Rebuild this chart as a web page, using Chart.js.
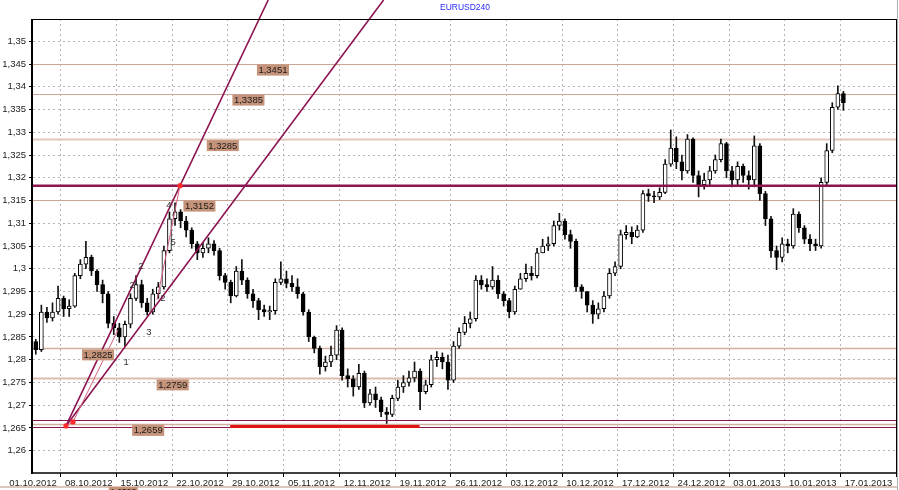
<!DOCTYPE html>
<html>
<head>
<meta charset="utf-8">
<script src="https://cdn.jsdelivr.net/npm/chart.js@4.4.1/dist/chart.umd.min.js"></script>
<style>
  html, body { margin: 0; padding: 0; background: #fff; }
  #wrap { width: 899px; height: 490px; position: relative; }
</style>
</head>
<body>
<div id="wrap"><canvas id="chart"></canvas></div>
<script>
// Trading-day positions of the date labels (one week = 5 units)
const xTickDays = [0, 5, 10, 15, 20, 25, 30, 35, 40, 45, 50, 55, 60, 65, 70, 75];
const xTickLabels = ['01.10.2012', '08.10.2012', '15.10.2012', '22.10.2012', '29.10.2012',
  '05.11.2012', '12.11.2012', '19.11.2012', '26.11.2012', '03.12.2012', '10.12.2012',
  '17.12.2012', '24.12.2012', '03.01.2013', '10.01.2013', '17.01.2013'];

const priceTicks = [1.26, 1.265, 1.27, 1.275, 1.28, 1.285, 1.29, 1.295, 1.3, 1.305,
  1.31, 1.315, 1.32, 1.325, 1.33, 1.335, 1.34, 1.345, 1.35];
const priceTickLabels = ['1,26', '1,265', '1,27', '1,275', '1,28', '1,285', '1,29', '1,295', '1,3', '1,305',
  '1,31', '1,315', '1,32', '1,325', '1,33', '1,335', '1,34', '1,345', '1,35'];

// EURUSD candles, two per trading day
const firstOpen = 1.2840;
const closes = [
  1.2822, 1.2905, 1.2892, 1.2905, 1.2935, 1.2912, 1.2918, 1.2985, 1.3010, 1.3025,
  1.2995, 1.2965, 1.2945, 1.2880, 1.2870, 1.2850, 1.2878, 1.2935, 1.2965, 1.2925,
  1.2905, 1.2945, 1.2960, 1.3040, 1.3110, 1.3125, 1.3105, 1.3085, 1.3055, 1.3035,
  1.3045, 1.3055, 1.3040, 1.2985, 1.2970, 1.2940, 1.2995, 1.2975, 1.2945, 1.2930,
  1.2910, 1.2905, 1.2908, 1.2970, 1.2978, 1.2968, 1.2960, 1.2945, 1.2905, 1.2850,
  1.2825, 1.2785, 1.2795, 1.2810, 1.2865, 1.2765, 1.2758, 1.2740, 1.2770, 1.2705,
  1.2725, 1.2712, 1.2685, 1.2680, 1.2715, 1.2740, 1.2750, 1.2760, 1.2775, 1.2730,
  1.2745, 1.2800, 1.2805, 1.2795, 1.2755, 1.2830, 1.2860, 1.2880, 1.2890, 1.2975,
  1.2965, 1.2960, 1.2975, 1.2945, 1.2930, 1.2905, 1.2955, 1.2978, 1.2990, 1.2985,
  1.3035, 1.3050, 1.3055, 1.3095, 1.3105, 1.3075, 1.3060, 1.2960, 1.2950, 1.2920,
  1.2900, 1.2912, 1.2940, 1.2990, 1.3005, 1.3075, 1.3080, 1.3070, 1.3085, 1.3165,
  1.3160, 1.3158, 1.3168, 1.3230, 1.3265, 1.3235, 1.3215, 1.3285, 1.3205, 1.3185,
  1.3195, 1.3215, 1.3240, 1.3275, 1.3215, 1.3195, 1.3225, 1.3205, 1.3195, 1.3270,
  1.3165, 1.3110, 1.3040, 1.3025, 1.3055, 1.3050, 1.3120, 1.3090, 1.3065, 1.3055,
  1.3050, 1.3190, 1.3260, 1.3355, 1.3385, 1.3365
];
const highs = [
  1.2845, 1.2920, 1.2915, 1.2925, 1.2962, 1.2940, 1.2932, 1.2990, 1.3020, 1.3060,
  1.3030, 1.2998, 1.2975, 1.2950, 1.2895, 1.2880, 1.2885, 1.2945, 1.2985, 1.2975,
  1.2935, 1.2955, 1.2970, 1.3050, 1.3125, 1.3145, 1.3130, 1.3115, 1.3090, 1.3060,
  1.3058, 1.3068, 1.3062, 1.3045, 1.2990, 1.2975, 1.3005, 1.3020, 1.2980, 1.2955,
  1.2935, 1.2920, 1.2918, 1.2978, 1.3015, 1.2995, 1.2985, 1.2978, 1.2948, 1.2910,
  1.2852, 1.2830, 1.2808, 1.2830, 1.2875, 1.2870, 1.2780, 1.2765, 1.2790, 1.2775,
  1.2735, 1.2740, 1.2718, 1.2695, 1.2722, 1.2755, 1.2765, 1.2775, 1.2795, 1.2780,
  1.2755, 1.2810, 1.2818, 1.2815, 1.2810, 1.2840, 1.2870, 1.2895, 1.2905, 1.2985,
  1.2985, 1.2978, 1.3005, 1.2985, 1.2950, 1.2935, 1.2962, 1.2990, 1.3010, 1.3005,
  1.3045, 1.3065, 1.3070, 1.3105, 1.3122, 1.3110, 1.3085, 1.3065, 1.2965, 1.2950,
  1.2930, 1.2925, 1.2950, 1.3000, 1.3015, 1.3085, 1.3095, 1.3092, 1.3095, 1.3172,
  1.3175, 1.3170, 1.3178, 1.3240, 1.3305, 1.3290, 1.3250, 1.3295, 1.3288, 1.3215,
  1.3210, 1.3225, 1.3250, 1.3285, 1.3278, 1.3225, 1.3235, 1.3230, 1.3215, 1.3292,
  1.3275, 1.3170, 1.3115, 1.3050, 1.3068, 1.3065, 1.3132, 1.3125, 1.3095, 1.3075,
  1.3065, 1.3200, 1.3275, 1.3365, 1.3402, 1.3390
];
const lows = [
  1.2812, 1.2818, 1.2882, 1.2885, 1.2900, 1.2895, 1.2895, 1.2915, 1.2978, 1.3000,
  1.2985, 1.2950, 1.2925, 1.2870, 1.2855, 1.2838, 1.2830, 1.2870, 1.2930, 1.2915,
  1.2898, 1.2900, 1.2935, 1.2955, 1.3035, 1.3095, 1.3090, 1.3070, 1.3045, 1.3020,
  1.3025, 1.3035, 1.3030, 1.2975, 1.2955, 1.2925, 1.2938, 1.2965, 1.2935, 1.2915,
  1.2888, 1.2895, 1.2888, 1.2900, 1.2965, 1.2958, 1.2950, 1.2935, 1.2898, 1.2840,
  1.2815, 1.2768, 1.2775, 1.2785, 1.2800, 1.2755, 1.2740, 1.2720, 1.2735, 1.2695,
  1.2700, 1.2695, 1.2675, 1.2660, 1.2675, 1.2710, 1.2728, 1.2742, 1.2752, 1.2690,
  1.2725, 1.2740, 1.2785, 1.2780, 1.2735, 1.2750, 1.2825, 1.2855, 1.2870, 1.2885,
  1.2955, 1.2950, 1.2955, 1.2935, 1.2918, 1.2892, 1.2900, 1.2955, 1.2972, 1.2975,
  1.2980, 1.3035, 1.3040, 1.3050, 1.3085, 1.3065, 1.3045, 1.2950, 1.2935, 1.2905,
  1.2880, 1.2890, 1.2905, 1.2935, 1.2985, 1.3000, 1.3065, 1.3055, 1.3068, 1.3080,
  1.3148, 1.3145, 1.3152, 1.3165, 1.3225, 1.3220, 1.3195, 1.3210, 1.3190, 1.3158,
  1.3175, 1.3185, 1.3210, 1.3235, 1.3200, 1.3180, 1.3185, 1.3190, 1.3175, 1.3180,
  1.3150, 1.3095, 1.3025, 1.2998, 1.3015, 1.3035, 1.3045, 1.3080, 1.3055, 1.3040,
  1.3040, 1.3045, 1.3185, 1.3255, 1.3350, 1.3348
];

// Horizontal price levels with their labels
const levelPrices = [1.3451, 1.3385, 1.3285, 1.3152, 1.2825, 1.2759, 1.2659];
const levelLabels = ['1,3451', '1,3385', '1,3285', '1,3152', '1,2825', '1,2759', '1,2659'];
const levelLabelDays = [20.1, 17.9, 15.6, 13.5, 4.4, 11.1, 8.9];
const levelWidths = [1, 1, 2, 1, 1.5, 2, 1.5];
const levelColors = ['#c9a595', '#c9a595', '#e2c8bb', '#c9a595', '#d2ae9e', '#dcbcae', '#d2ae9e'];

const resistancePrice = 1.31826;      // thick maroon level
const supportPrices = [1.2667, 1.2652]; // thin maroon levels
const redSegment = { from: 17.7, to: 34.7, price: 1.2653 };

// Trend lines from the October low, each given by two points [day, price]
const trendLines = [
  [[2.96, 1.26545], [13.2, 1.31826]],
  [[2.96, 1.26545], [30.2, 1.3549]]
];
const waveLines = [
  [[2.96, 1.26545], [3.59, 1.26633]],
  [[3.59, 1.26633], [7.63, 1.28655]],
  [[11.13, 1.29314], [13.2, 1.31826]]
];
const markerPoints = [[2.96, 1.26545], [3.59, 1.26633], [13.2, 1.31826]];
const waveLabels = ['1', '2', '2', '3', '2', '4', '5'];
const wavePoints = [[8.35, 1.2795], [8.89, 1.29645], [9.69, 1.30062], [10.41, 1.28611],
  [11.67, 1.29358], [12.21, 1.31402], [12.57, 1.30589]];

const FONT = 'Arial, "Liberation Sans", sans-serif';

// Build candles: open is the previous close
const candles = closes.map((c, i) => {
  const o = i === 0 ? firstOpen : closes[i - 1];
  return { t: 0.25 + i * 0.5, o, c, h: Math.max(highs[i], o, c), l: Math.min(lows[i], o, c) };
});

function line(ctx, x1, y1, x2, y2) {
  ctx.beginPath();
  ctx.moveTo(x1, y1);
  ctx.lineTo(x2, y2);
  ctx.stroke();
}

// Level lines under the candles
const levelsBelow = {
  id: 'levelsBelow',
  beforeDatasetsDraw(chart) {
    const { ctx, chartArea: a, scales: { y } } = chart;
    ctx.save();
    levelPrices.forEach((p, i) => {
      ctx.strokeStyle = levelColors[i];
      ctx.lineWidth = levelWidths[i];
      const yy = Math.round(y.getPixelForValue(p)) + 0.5;
      line(ctx, a.left, yy, a.right, yy);
    });
    ctx.restore();
  }
};

// Objects drawn over the candles
const overlay = {
  id: 'overlay',
  afterDatasetsDraw(chart) {
    const { ctx, chartArea: a, scales: { x, y } } = chart;
    const px = d => x.getPixelForValue(d);
    const py = p => y.getPixelForValue(p);
    ctx.save();

    // maroon levels
    ctx.strokeStyle = '#8c1450';
    ctx.lineWidth = 1.2;
    supportPrices.forEach(p => {
      const yy = Math.round(py(p)) + 0.5;
      line(ctx, a.left, yy, a.right, yy);
    });
    ctx.lineWidth = 2.6;
    line(ctx, a.left, py(resistancePrice), a.right, py(resistancePrice));

    // red segment at the low
    ctx.strokeStyle = '#e01414';
    ctx.lineWidth = 3;
    line(ctx, px(redSegment.from), py(redSegment.price), px(redSegment.to), py(redSegment.price));

    // trend lines run up to the top of the canvas
    ctx.strokeStyle = '#8c1450';
    ctx.lineWidth = 1.6;
    trendLines.forEach(([p1, p2]) => {
      const x1 = px(p1[0]), y1 = py(p1[1]), x2 = px(p2[0]), y2 = py(p2[1]);
      const xTop = x1 + (0 - y1) * (x2 - x1) / (y2 - y1);
      line(ctx, x1, y1, xTop, 0);
    });

    ctx.strokeStyle = '#d0607e';
    ctx.lineWidth = 1;
    waveLines.forEach(([p1, p2]) => line(ctx, px(p1[0]), py(p1[1]), px(p2[0]), py(p2[1])));

    ctx.fillStyle = '#ff2a2a';
    markerPoints.forEach(([d, p]) => {
      ctx.beginPath();
      ctx.arc(px(d), py(p), 2.6, 0, Math.PI * 2);
      ctx.fill();
    });

    // price labels
    ctx.font = '9.5px ' + FONT;
    ctx.textBaseline = 'middle';
    ctx.textAlign = 'left';
    levelPrices.forEach((p, i) => {
      const bx = px(levelLabelDays[i]);
      const by = py(p) + 1;
      const w = ctx.measureText(levelLabels[i]).width + 3;
      ctx.fillStyle = '#c4937a';
      ctx.fillRect(bx, by, w, 11);
      ctx.fillStyle = '#1a1a1a';
      ctx.fillText(levelLabels[i], bx + 1.5, by + 5.8);
    });

    // wave counts
    ctx.textAlign = 'center';
    ctx.fillStyle = '#333';
    ctx.font = '9.5px ' + FONT;
    wavePoints.forEach(([d, p], i) => ctx.fillText(waveLabels[i], px(d), py(p)));

    // frame
    ctx.strokeStyle = '#000';
    ctx.lineWidth = 1;
    line(ctx, a.left, a.top + 0.5, a.right, a.top + 0.5);
    line(ctx, a.right - 0.5, a.top, a.right - 0.5, a.bottom);
    ctx.lineWidth = 1.5;
    line(ctx, a.left, a.bottom, a.right, a.bottom);
    ctx.lineWidth = 2;
    line(ctx, a.left - 1, a.top, a.left - 1, a.bottom + 1);

    // title
    ctx.fillStyle = '#2a2aff';
    ctx.font = '8.5px ' + FONT;
    ctx.textAlign = 'center';
    ctx.fillText('EURUSD240', (a.left + a.right) / 2 + 0, 8);

    // clipped label and line at the bottom edge of the window
    const hb = chart.height;
    ctx.strokeStyle = '#d2b4a6';
    ctx.lineWidth = 1.5;
    line(ctx, 0, hb - 3, a.right, hb - 3);
    ctx.fillStyle = '#c4937a';
    ctx.fillRect(px(6.8), hb - 3, 29, 6);
    ctx.fillStyle = '#1a1a1a';
    ctx.textAlign = 'left';
    ctx.fillText('1,2593', px(6.8) + 1.5, hb + 3);
    ctx.strokeStyle = '#b0b0b0';
    ctx.lineWidth = 1;
    line(ctx, a.right + 0.5, 0, a.right + 0.5, hb);
    ctx.restore();
  }
};

new Chart(document.getElementById('chart'), {
  type: 'bar',
  data: {
    datasets: [
      {
        label: 'bodies',
        data: candles.map(k => ({ x: k.t, y: [k.o, k.c] })),
        backgroundColor: candles.map(k => (k.c >= k.o ? '#ffffff' : '#000000')),
        borderColor: '#000',
        borderWidth: 1,
        borderSkipped: false,
        barThickness: 4,
        minBarLength: 1,
        grouped: false,
        order: 1
      },
      {
        label: 'wicks',
        data: candles.map(k => ({ x: k.t, y: [k.l, k.h] })),
        backgroundColor: '#111',
        borderWidth: 0,
        barThickness: 1,
        grouped: false,
        order: 2
      }
    ]
  },
  options: {
    responsive: true,
    maintainAspectRatio: false,
    animation: false,
    layout: { padding: { left: 0, top: 19, right: 2, bottom: 0 } },
    plugins: { legend: { display: false }, tooltip: { enabled: false } },
    scales: {
      x: {
        type: 'linear',
        min: 0,
        max: 77.56,
        offset: false,
        afterBuildTicks: s => { s.ticks = xTickDays.map(v => ({ value: v })); },
        afterFit: s => { s.height = 17; },
        border: { display: false, dash: [2, 3] },
        grid: { color: '#b4b4b4', tickColor: '#000', tickLength: 4, tickBorderDash: [] },
        ticks: {
          autoSkip: false, maxRotation: 0, padding: 1,
          color: '#222', font: { family: FONT, size: 9.5 },
          callback: (v, i) => xTickLabels[i]
        }
      },
      y: {
        type: 'linear',
        min: 1.2551,
        max: 1.3549,
        afterBuildTicks: s => { s.ticks = priceTicks.map(v => ({ value: v })); },
        afterFit: s => { s.width = 33; },
        border: { display: false, dash: [2, 3] },
        grid: { color: '#b4b4b4', tickColor: '#000', tickLength: 4, tickBorderDash: [] },
        ticks: {
          padding: 3, color: '#222', font: { family: FONT, size: 9.5 },
          callback: (v, i) => priceTickLabels[i]
        }
      }
    }
  },
  plugins: [levelsBelow, overlay]
});
</script>
</body>
</html>
